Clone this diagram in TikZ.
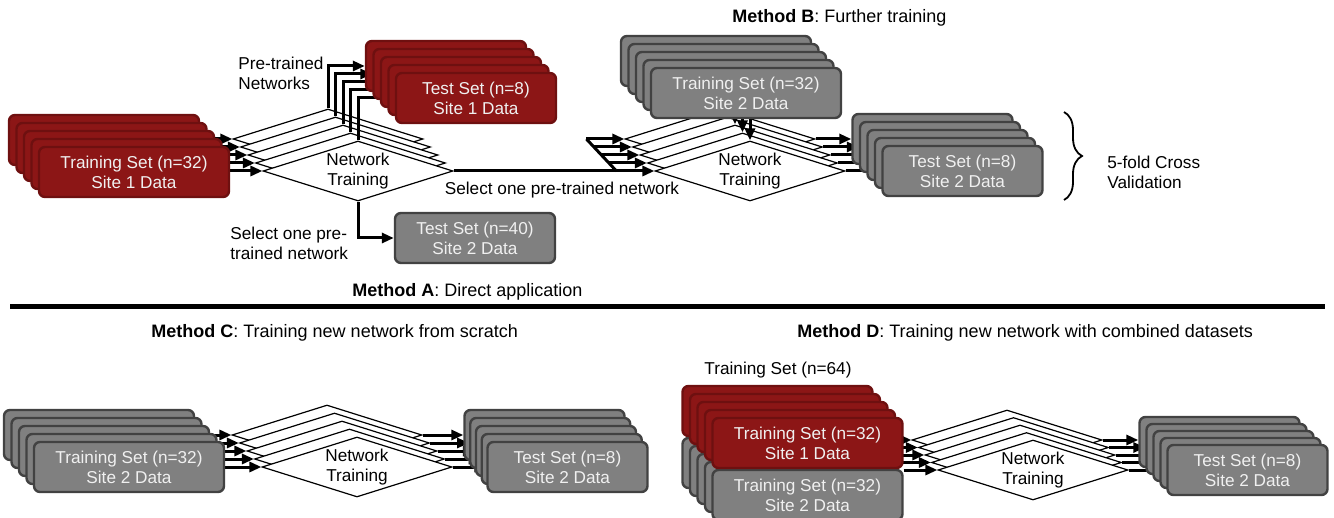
\documentclass[tikz,border=0pt]{standalone}
\usepackage{fontspec}
\setmainfont{Liberation Sans}
\usetikzlibrary{arrows.meta,positioning,calc,shapes.geometric,
                 decorations.pathreplacing,backgrounds}
\definecolor{sitered}{RGB}{140,22,22}
\definecolor{siteredline}{RGB}{110,16,16}
\definecolor{sitegray}{RGB}{128,128,128}
\definecolor{sitegrayline}{RGB}{66,66,66}

\begin{document}
\begin{tikzpicture}[x=0.5pt, y=-0.5pt,
  setbox/.style={rounded corners=3pt, line width=1.2pt, text=white!94!black,
                 align=center, inner sep=0pt, font=\fontsize{8.6}{10}\selectfont},
  redset/.style={setbox, draw=siteredline, fill=sitered},
  grayset/.style={setbox, draw=sitegrayline, fill=sitegray},
  trainbox/.style={minimum width=95pt, minimum height=25pt},
  testbox/.style={minimum width=80pt, minimum height=25pt},
  net/.style={diamond, draw, fill=white, line width=0.6pt, aspect=3.17,
              minimum width=95pt, minimum height=30pt, inner sep=0pt,
              align=center, font=\fontsize{8.6}{10}\selectfont},
  arr/.style={line width=1.5pt, -{Triangle[length=6pt,width=5pt]}},
  bus/.style={line width=1.5pt},
  txt/.style={inner sep=0pt, align=left, font=\fontsize{8.6}{10}\selectfont},
  method/.style={inner sep=0pt, anchor=west, font=\fontsize{9}{11}\selectfont}
]
\useasboundingbox (0,0) rectangle (1334,518);

% Method A: direct application
\begin{scope}[on background layer]
  \foreach \i in {0,...,3}
    \node[net] (dA\i) at ({328+7.5*\i},{139+8*\i}) {};
  \node[net] (dA4) at (358,171) {Network\\Training};
\end{scope}
\foreach \i in {0,...,3}
  \node[redset, trainbox] (trA\i) at ({104+7.5*\i},{140+8*\i}) {};
\node[redset, trainbox] (trA4) at (134,172) {Training Set (n=32)\\Site 1 Data};
\foreach \i in {0,...,3}
  \node[redset, testbox] (teA\i) at ({446+7.5*\i},{66+8*\i}) {};
\node[redset, testbox] (teA4) at (476,98) {Test Set (n=8)\\Site 1 Data};
\node[grayset, testbox] (teA40) at (475,238) {Test Set (n=40)\\Site 2 Data};

\begin{scope}[on background layer]
  \foreach \i in {0,...,4} {
    \draw[arr] (trA\i.east |- dA\i.west) -- (dA\i.west);
    \draw[arr] (dA\i.north) |- (teA\i.west);
  }
  \draw[arr] (dA4.south) |- (teA40.west);
\end{scope}

\node[txt, anchor=west] (ptn) at (238,73) {Pre-trained\\Networks};
\node[txt, anchor=west] (selA) at (230,243) {Select one pre-\\trained network};
\node[method] (mA) at (352,292) {\textbf{Method A}: Direct application};

% Method B: further training
\begin{scope}[on background layer]
  \foreach \i in {0,...,3}
    \node[net] (dB\i) at ({720+7.5*\i},{139+8*\i}) {};
  \node[net] (dB4) at (750,171) {Network\\Training};
\end{scope}
\foreach \i in {0,...,3}
  \node[grayset, trainbox] (trB\i) at ({716+7.5*\i},{61+8*\i}) {};
\node[grayset, trainbox] (trB4) at (746,93) {Training Set (n=32)\\Site 2 Data};
\foreach \i in {0,...,3}
  \node[grayset, testbox] (teB\i) at ({932.5+7.5*\i},{139+8*\i}) {};
\node[grayset, testbox] (teB4) at (962.5,171) {Test Set (n=8)\\Site 2 Data};

\begin{scope}[on background layer]
  \draw[bus] (dA4.east) -- ([xshift=-19pt]dB4.west);
  \draw[bus] ([xshift=-19pt]dB0.west) -- ([xshift=-19pt]dB4.west);
  \foreach \i in {0,...,4} {
    \draw[arr] ([xshift=-19pt]dB\i.west) -- (dB\i.west);
    \draw[arr] (trB\i.south -| dB\i.north) -- (dB\i.north);
    \draw[arr] (dB\i.east) -- (dB\i.east -| teB\i.west);
  }
\end{scope}

\node[txt] (selB) at (562,190) {Select one pre-trained network};
\node[method] (mB) at (732,18) {\textbf{Method B}: Further training};
\coordinate (cvtop) at (1064,112);
\coordinate (cvbot) at (1064,200);
\draw[line width=0.9pt, decorate, decoration={brace, amplitude=9pt}]
  (cvtop) -- (cvbot);
\node[txt, anchor=west] (cv) at (1107,172) {5-fold Cross\\Validation};

\draw[line width=2.5pt] (10,307) -- (1325,307);

% Method C: training from scratch
\begin{scope}[on background layer]
  \foreach \i in {0,...,3}
    \node[net] (dC\i) at ({327+7.5*\i},{435+8*\i}) {};
  \node[net] (dC4) at (357,467) {Network\\Training};
\end{scope}
\foreach \i in {0,...,3}
  \node[grayset, trainbox] (trC\i) at ({99+7.5*\i},{435+8*\i}) {};
\node[grayset, trainbox] (trC4) at (129,467) {Training Set (n=32)\\Site 2 Data};
\foreach \i in {0,...,3}
  \node[grayset, testbox] (teC\i) at ({544.5+5.75*\i},{435+8*\i}) {};
\node[grayset, testbox] (teC4) at (567.5,467) {Test Set (n=8)\\Site 2 Data};

\begin{scope}[on background layer]
  \foreach \i in {0,...,4} {
    \draw[arr] (trC\i.east |- dC\i.west) -- (dC\i.west);
    \draw[arr] (dC\i.east) -- (dC\i.east -| teC\i.west);
  }
\end{scope}

\node[method] (mC) at (151,333) {\textbf{Method C}: Training new network from scratch};

% Method D: combined datasets
\begin{scope}[on background layer]
  \foreach \i in {0,...,3}
    \node[net] (dD\i) at ({1007+6.5*\i},{440+7.5*\i}) {};
  \node[net] (dD4) at (1033,470) {Network\\Training};
\end{scope}
\foreach \i in {0,...,3}
  \node[grayset, trainbox] (gdD\i) at ({777.5+7.5*\i},{463+8*\i}) {};
\node[grayset, trainbox] (gdD4) at (807.5,495) {Training Set (n=32)\\Site 2 Data};
\foreach \i in {0,...,3}
  \node[redset, trainbox] (rdD\i) at ({777.5+7.5*\i},{411+8*\i}) {};
\node[redset, trainbox] (rdD4) at (807.5,443) {Training Set (n=32)\\Site 1 Data};
\foreach \i in {0,...,3}
  \node[grayset, testbox] (teD\i) at ({1219.5+7*\i},{442+7*\i}) {};
\node[grayset, testbox] (teD4) at (1247.5,470) {Test Set (n=8)\\Site 2 Data};

\begin{scope}[on background layer]
  \foreach \i in {0,...,4} {
    \draw[arr] (rdD\i.east |- dD\i.west) -- (dD\i.west);
    \draw[arr] (dD\i.east) -- (dD\i.east -| teD\i.west);
  }
\end{scope}

\node[txt] (n64) at (778,370) {Training Set (n=64)};
\node[method] (mD) at (797,333) {\textbf{Method D}: Training new network with combined datasets};

\end{tikzpicture}
\end{document}
